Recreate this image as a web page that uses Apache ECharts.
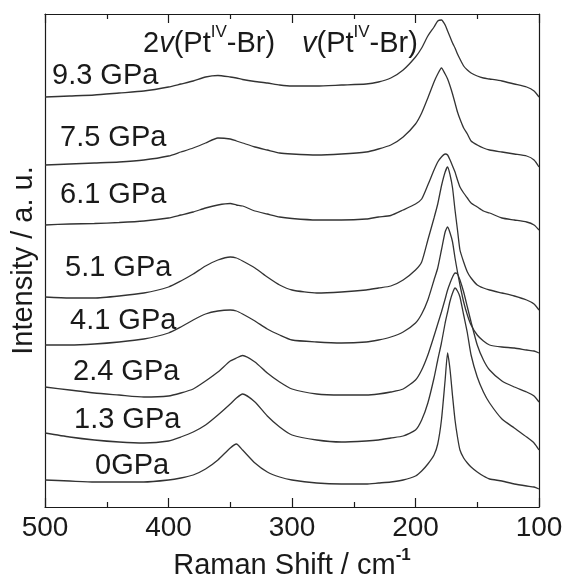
<!DOCTYPE html>
<html>
<head>
<meta charset="utf-8">
<script src="https://cdn.jsdelivr.net/npm/echarts@6/dist/echarts.min.js"></script>
<style>
html,body{margin:0;padding:0;background:#fff;}
#chart{width:563px;height:574px;}
</style>
</head>
<body>
<div id="chart"></div>
<script>
// Raman shift (cm-1) sample positions shared by all spectra
const shifts = [500,480,460,440,420,400,390,380,370,360,350,345,340,330,320,310,300,280,260,240,230,220,210,200,195,190,185,182,179,176,174,172,170,168,166,164,161,158,155,150,145,140,130,120,110,104,100];

// Stacked intensities (a.u., offset included)
const p93 = [410,411,412,414,416,420, 423,426,430,431.5,430,429,427.5, 425.5,424,422,421, 421,422,423,425,429,437,450, 459,471,480,486,487,482,476,470,464,459,453,448, 441,437,434,431,429,428, 426,423,420,416,410];
const p75 = [342,343,344,345,347,351, 355,359,364,369,368,366,364, 360,357,354,353, 352,353,355,358,362,370,383, 394,409,425,433,439,433,428,421,413,404,395,388, 379,373,366,362,359,357, 355,353,351,347,340];
const p61 = [282,283,283.5,284.5,286,289, 292,295,299,302,303.5,302,301, 296,293,290,288.5, 287,287,288,290,291.5,297,303, 308,322,337,345,350,353,352,347,341,335,327,320, 314,309,304,300,296,294, 289,287,285,282,277];
const p51 = [210,209,209,211,214,220, 226,233,241,247,250,249,246, 239,230,222,217, 214,215,217,219,221,227,237, 245,267,289,303,321,335,340,332,319,297,277,257, 245,235,229,222,219,217, 214,211,207,203,197];
const p41 = [162,162,163,165,168,174, 180,187,193,196,197,196,193, 186,178,172,167, 165,164,165,167,170,175,184, 193,207,227,239,257,275,280,274,265,249,235,222, 205,192,182,172,166,162, 160,159,157,156,154];
const p24 = [120,117,114,112,110,111, 114,118,126,135,146,149,151.5, 145,134,125,118, 113,112,112,113,115,118,127, 137,152,171,183,195,208,217,224,230,234,233,227, 215,200,185,162,147,137, 126,120,115,111,105];
const p13 = [74,70,67,65,64,66, 70,75,82,92,103,109,113, 105,91,80,72, 67,65,66,67,69,71,77, 87,104,129,147,164,184,195,206,214,219,216,210, 192,174,152,130,115,104, 88,79,70,64,57];
const p0  = [27,26,25,25,25,27, 29,32,38,47,59,63,57, 44,35,30,27, 24,23,23,24,25,27,31, 36,43,52,63,87,127,154,137,111,87,70,57, 49,44,40,35,31,28, 26,23,21,20,18];

const pressures = ['9.3 GPa','7.5 GPa','6.1 GPa','5.1 GPa','4.1 GPa','2.4 GPa','1.3 GPa','0GPa'];
const spectra = [p93,p75,p61,p51,p41,p24,p13,p0];
const xTicks = [500,400,300,200,100];

const FONT = 'Liberation Sans, Arial, sans-serif';
const INK = '#1a1a1a';
const LINE = '#333333';

const chart = echarts.init(document.getElementById('chart'), null, {renderer:'canvas'});

const series = spectra.map((vals, k) => ({
  name: pressures[k],
  type: 'line',
  xAxisIndex: 0, yAxisIndex: 0,
  showSymbol: false,
  symbol: 'none',
  smooth: 0.2,
  lineStyle: {color: LINE, width: 1.3},
  data: shifts.map((s, i) => [s, vals[i]]),
  z: 3
}));

// label placements (pixel positions of the text annotations)
const labelPos = [[52,76],[60,138],[60,195],[65,268],[70,321],[73,372],[74,420],[95,466]];

const graphics = pressures.map((t, k) => ({
  type: 'text', x: labelPos[k][0], y: labelPos[k][1],
  style: {text: t, fontSize: 29, fontFamily: FONT, fill: INK, align: 'left', verticalAlign: 'middle'}
}));

const annRich = {
  a: {fontSize: 29, lineHeight: 34, fontFamily: FONT, fill: INK, verticalAlign: 'bottom'},
  b: {fontSize: 29, lineHeight: 34, fontFamily: FONT, fill: INK, fontStyle: 'italic', verticalAlign: 'bottom'},
  c: {fontSize: 17, lineHeight: 17, fontFamily: FONT, fill: INK, verticalAlign: 'top', padding: [0, 0, 25, 0]}
};
graphics.push({
  type: 'text', x: 143, y: 41,
  style: {text: '{a|2}{b|v}{a|(Pt}{c|IV}{a|-Br)}', fontFamily: FONT, fill: INK,
    align: 'left', verticalAlign: 'middle', rich: annRich}
});
graphics.push({
  type: 'text', x: 302, y: 41,
  style: {text: '{b|v}{a|(Pt}{c|IV}{a|-Br)}', fontFamily: FONT, fill: INK,
    align: 'left', verticalAlign: 'middle', rich: annRich}
});

const axisLineStyle = {color: INK, width: 1.2};

chart.setOption({
  animation: false,
  backgroundColor: '#fff',
  grid: {left: 45, top: 14, right: 24, bottom: 67, containLabel: false, outerBoundsMode: 'none'},
  xAxis: [{
    type: 'value', position: 'bottom', min: 100, max: 500, interval: 100, inverse: true,
    axisLine: {show: true, onZero: false, lineStyle: axisLineStyle},
    axisTick: {show: true, inside: true, length: 9, lineStyle: axisLineStyle},
    minorTick: {show: true, splitNumber: 2, length: 5, lineStyle: axisLineStyle},
    splitLine: {show: false},
    axisLabel: {fontSize: 28, color: INK, fontFamily: FONT, margin: 7,
      formatter: v => xTicks.includes(v) ? String(v) : ''},
    name: '{a|Raman Shift / cm}{b|-1}',
    nameLocation: 'middle', nameGap: 33,
    nameTextStyle: {
      rich: {
        a: {fontSize: 29, lineHeight: 34, color: INK, fontFamily: FONT, verticalAlign: 'bottom'},
        b: {fontSize: 17, lineHeight: 17, color: INK, fontFamily: FONT, fontWeight: 'bold', verticalAlign: 'top'}
      }
    }
  }, {
    type: 'value', position: 'top', min: 100, max: 500, interval: 100, inverse: true,
    axisLine: {show: true, onZero: false, lineStyle: axisLineStyle},
    axisTick: {show: true, inside: true, length: 9, lineStyle: axisLineStyle},
    minorTick: {show: true, splitNumber: 2, length: 5, lineStyle: axisLineStyle},
    splitLine: {show: false},
    axisLabel: {show: false}
  }],
  yAxis: [{
    type: 'value', min: 0, max: 493, position: 'left',
    axisLine: {show: true, onZero: false, lineStyle: axisLineStyle},
    axisTick: {show: false}, axisLabel: {show: false}, splitLine: {show: false},
    name: 'Intensity / a. u.', nameLocation: 'middle', nameGap: 7, nameRotate: 90,
    nameTextStyle: {fontSize: 29, color: INK, fontFamily: FONT}
  }, {
    type: 'value', min: 0, max: 493, position: 'right',
    axisLine: {show: true, onZero: false, lineStyle: axisLineStyle},
    axisTick: {show: false}, axisLabel: {show: false}, splitLine: {show: false}
  }],
  series: series,
  graphic: graphics
});
</script>
</body>
</html>
